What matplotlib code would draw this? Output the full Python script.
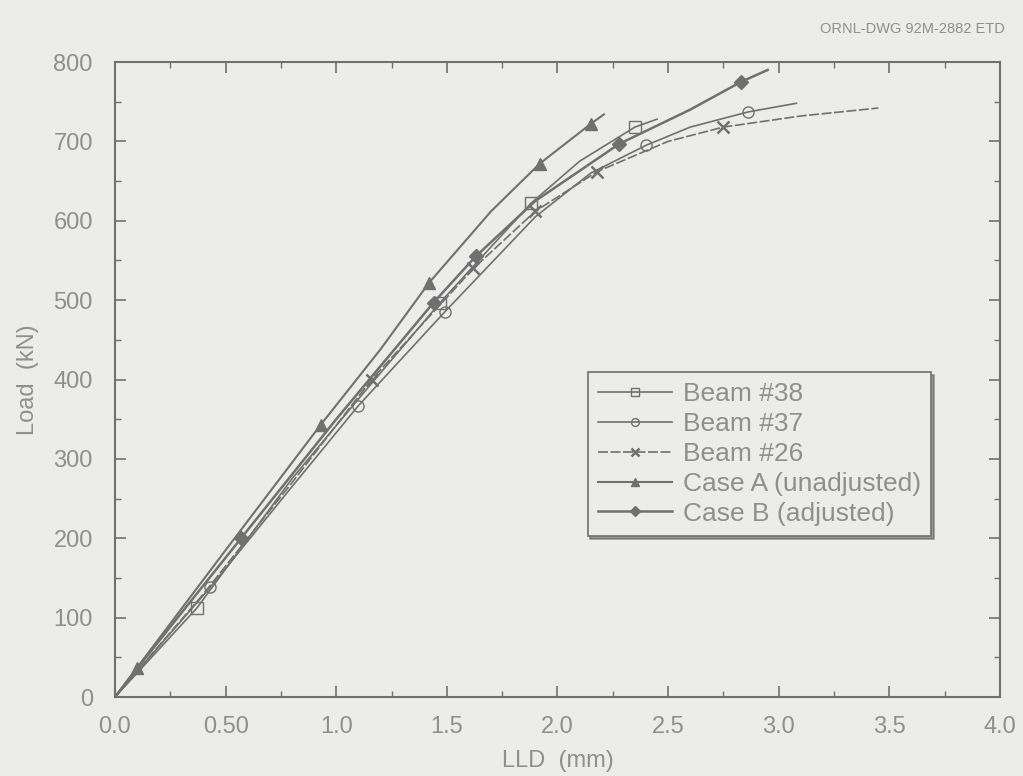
import matplotlib
matplotlib.use("Agg")
from matplotlib import pyplot as plt
from matplotlib.ticker import MultipleLocator

# Load vs. LLD data
b38_x = [0, 0.37, 0.8, 1.12, 1.47, 1.88, 2.1, 2.35, 2.45]
b38_y = [0, 112, 275, 382, 497, 622, 675, 718, 728]
b38_mk = [1, 4, 5, 7]

b37_x = [0, 0.43, 0.8, 1.1, 1.49, 1.9, 2.15, 2.4, 2.6, 2.86, 3.08]
b37_y = [0, 138, 265, 367, 485, 605, 660, 695, 718, 737, 748]
b37_mk = [1, 3, 4, 7, 9]

b26_x = [0, 0.4, 0.8, 1.16, 1.62, 1.9, 2.18, 2.5, 2.75, 3.1, 3.45]
b26_y = [0, 130, 270, 400, 540, 612, 662, 700, 718, 732, 742]
b26_mk = [3, 4, 5, 6, 8]

caseA_x = [0, 0.1, 0.5, 0.93, 1.2, 1.42, 1.7, 1.92, 2.15, 2.21]
caseA_y = [0, 37, 185, 343, 438, 522, 612, 672, 722, 734]
caseA_mk = [1, 3, 5, 7, 8]

caseB_x = [0, 0.1, 0.57, 1.0, 1.44, 1.63, 1.9, 2.28, 2.6, 2.83, 2.95]
caseB_y = [0, 36, 200, 350, 497, 555, 625, 697, 740, 775, 790]
caseB_mk = [2, 4, 5, 7, 9]

x_ticks = [0.0, 0.5, 1.0, 1.5, 2.0, 2.5, 3.0, 3.5, 4.0]
x_labels = ["0.0", "0.50", "1.0", "1.5", "2.0", "2.5", "3.0", "3.5", "4.0"]
y_ticks = [0, 100, 200, 300, 400, 500, 600, 700, 800]

bg = "#ececea"
ink = "#8f8f8f"
line = "#707070"

plt.rcParams["font.family"] = ["Liberation Sans", "DejaVu Sans"]

fig = plt.figure(figsize=(10.23, 7.76), dpi=100, facecolor=bg)
ax = fig.add_axes([0.1124, 0.1018, 0.8651, 0.8183])
ax.set_facecolor(bg)

ax.plot(b38_x, b38_y, color=line, lw=1.2, marker="s", ms=8, mfc="none",
        mec=line, markevery=b38_mk, label="Beam #38")
ax.plot(b37_x, b37_y, color=line, lw=1.2, marker="o", ms=8, mfc="none",
        mec=line, markevery=b37_mk, label="Beam #37")
ax.plot(b26_x, b26_y, color=line, lw=1.2, ls=(0, (6, 1.5)), marker="x", ms=9,
        mew=1.8, mec=line, markevery=b26_mk, label="Beam #26")
ax.plot(caseA_x, caseA_y, color=line, lw=1.5, marker="^", ms=9, mfc=line,
        mec=line, markevery=caseA_mk, label="Case A (unadjusted)")
ax.plot(caseB_x, caseB_y, color=line, lw=1.8, marker="D", ms=7, mfc=line,
        mec=line, markevery=caseB_mk, label="Case B (adjusted)")

ax.set_xlim(0, 4.0)
ax.set_ylim(0, 800)
ax.set_xticks(x_ticks)
ax.set_xticklabels(x_labels)
ax.set_yticks(y_ticks)
ax.xaxis.set_minor_locator(MultipleLocator(0.25))
ax.yaxis.set_minor_locator(MultipleLocator(50))
ax.tick_params(which="both", direction="in", top=True, right=True,
               colors=line, labelcolor=ink, labelsize=17)
ax.tick_params(axis="x", which="major", length=8, width=1.2, pad=14)
ax.tick_params(axis="y", which="major", length=8, width=1.2, pad=16)
ax.tick_params(which="minor", length=4, width=1.0)
for s in ax.spines.values():
    s.set_color(line)
    s.set_linewidth(1.5)

ax.set_xlabel("LLD  (mm)", color=ink, fontsize=17, labelpad=8)
ax.set_ylabel("Load  (kN)", color=ink, fontsize=17, labelpad=10)

leg = ax.legend(loc="upper left", bbox_to_anchor=(0.534, 0.512), fontsize=19,
                frameon=True, fancybox=False, shadow=True, labelspacing=0.22,
                handlelength=2.8, handletextpad=0.4, borderpad=0.4,
                borderaxespad=0, markerscale=0.7)
leg.get_frame().set_facecolor(bg)
leg.get_frame().set_edgecolor(line)
leg.get_frame().set_linewidth(1.2)
for t in leg.get_texts():
    t.set_color(ink)

fig.text(0.982, 0.962, "ORNL-DWG 92M-2882 ETD", ha="right", va="center",
         fontsize=10.5, color=ink)

fig.savefig("out.png", dpi=100, facecolor=bg)
